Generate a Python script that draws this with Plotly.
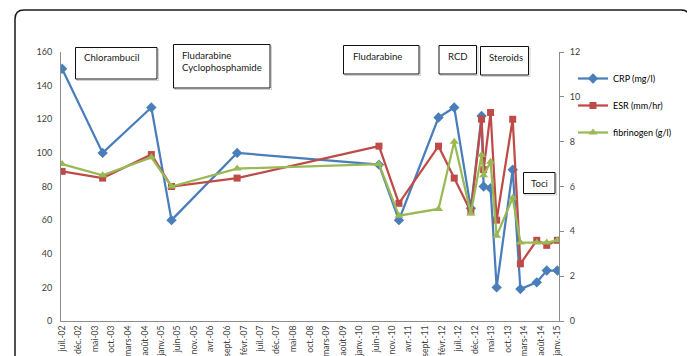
import plotly.graph_objects as go
import pandas as pd

# ---- data ----
dates = ["2002-07-01", "2003-07-10", "2004-10-01", "2005-04-05", "2006-12-01",
         "2010-07-01", "2011-01-01", "2012-01-01", "2012-05-25", "2012-10-25",
         "2013-02-01", "2013-02-20", "2013-04-25", "2013-06-20", "2013-11-15",
         "2014-01-25", "2014-06-25", "2014-09-25", "2015-01-01"]
crp = [150, 100, 127, 60, 100, 93, 60, 121, 127, 67, 122, 80, 79, 20, 90, 19, 23, 30, 30]
esr = [89, 85, 99, 80, 85, 104, 70, 104, 85, 65, 120, 90, 124, 60, 120, 34, 48, 45, 48]
fib = [7.0, 6.5, 7.3, 6.0, 6.8, 7.0, 4.7, 5.0, 8.0, 4.8, 7.4, 6.5, 7.1, 3.8, 5.5, 3.5, 3.5, 3.5, 3.6]

tick_labels = ["juil.-02", "déc.-02", "mai-03", "oct.-03", "mars-04", "août-04", "janv.-05",
               "juin-05", "nov.-05", "avr.-06", "sept.-06", "févr.-07", "juil.-07", "déc.-07",
               "mai-08", "oct.-08", "mars-09", "août-09", "janv.-10", "juin-10", "nov.-10",
               "avr.-11", "sept.-11", "févr.-12", "juil.-12", "déc.-12", "mai-13", "oct.-13",
               "mars-14", "août-14", "janv.-15"]
tick_dates = pd.date_range("2002-07-01", periods=len(tick_labels), freq="5MS")

therapies = ["Chlorambucil", "Fludarabine<br>Cyclophosphamide", "Fludarabine", "RCD", "Steroids", "Toci"]

# ---- layout geometry ----
# the page has an 8px body margin, so the figure is drawn 8px smaller and
# positions below are given in window pixels and shifted by OFF.
OFF = 8
W, H = 695 - OFF, 356 - OFF
ML = 61 - OFF
MT = 52 - OFF
MR = W - (559 - OFF)
MB = H - (321 - OFF)
PW = W - ML - MR
PH = H - MT - MB


def px(x):
    return (x - OFF - ML) / PW


def py(y):
    return (H - MB - (y - OFF)) / PH


FONT = "Lato, 'Open Sans', sans-serif"
fig = go.Figure()

fig.add_trace(go.Scatter(
    x=dates, y=crp, name="CRP (mg/l)", mode="lines+markers",
    line=dict(color="#4A7EBB", width=2.25),
    marker=dict(symbol="diamond", size=8, color="#4A7EBB"),
    legendgroup="a"))
fig.add_trace(go.Scatter(
    x=dates, y=esr, name="ESR (mm/hr)", mode="lines+markers",
    line=dict(color="#BE4B48", width=2.25),
    marker=dict(symbol="square", size=7, color="#BE4B48"),
    legendgroup="b"))
fig.add_trace(go.Scatter(
    x=dates, y=fib, name="fibrinogen (g/l)", mode="lines+markers", yaxis="y2",
    line=dict(color="#98B954", width=2.25),
    marker=dict(symbol="triangle-up", size=8, color="#98B954"),
    legendgroup="c"))

shapes = []
# outer rounded border
x0, y0, x1, y1, r = 15, 10, 690, 370, 9
path = (f"M {px(x0)},{py(y0 + r)} Q {px(x0)},{py(y0)} {px(x0 + r)},{py(y0)} "
        f"L {px(x1 - r)},{py(y0)} Q {px(x1)},{py(y0)} {px(x1)},{py(y0 + r)} "
        f"L {px(x1)},{py(y1)} L {px(x0)},{py(y1)} Z")
shapes.append(dict(type="path", xref="paper", yref="paper", path=path,
                   line=dict(color="#1a1a1a", width=1.5), layer="below"))

boxes = [  # (x0, y0, x1, y1) window pixels, text, text-x, text-y, anchor
    (75.5, 47.5, 157, 79, therapies[0], 82, 58, "left"),
    (173.5, 44.5, 270, 88, therapies[1], 180, 47.5, "top"),
    (343.5, 45.5, 419, 74, therapies[2], 351, 57, "left"),
    (439, 45.5, 476.5, 74, therapies[3], 446, 57, "left"),
    (480.5, 46.5, 528.5, 75, therapies[4], 487, 58, "left"),
    (523.5, 172.5, 555, 193.5, therapies[5], 539.2, 183, "center"),
]
annotations = []
for bx0, by0, bx1, by1, txt, tx, ty, anc in boxes:
    shapes.append(dict(type="rect", xref="paper", yref="paper",
                       x0=px(bx0 + 1.5), x1=px(bx1 + 1.5), y0=py(by0 + 1.5), y1=py(by1 + 1.5),
                       line=dict(color="rgba(0,0,0,0.18)", width=1), fillcolor="rgba(0,0,0,0)"))
    shapes.append(dict(type="rect", xref="paper", yref="paper",
                       x0=px(bx0), x1=px(bx1), y0=py(by0), y1=py(by1),
                       line=dict(color="#111111", width=1), fillcolor="white"))
    f = dict(family=FONT, size=9.6, color="#1a1a1a")
    if anc == "top":
        annotations.append(dict(xref="paper", yref="paper", x=px(tx), y=py(ty), text=txt,
                                showarrow=False, xanchor="left", yanchor="top", align="left",
                                font=f))
    elif anc == "center":
        annotations.append(dict(xref="paper", yref="paper", x=px(tx), y=py(ty), text=txt,
                                showarrow=False, xanchor="center", yanchor="middle", font=f))
    else:
        annotations.append(dict(xref="paper", yref="paper", x=px(tx), y=py(ty), text=txt,
                                showarrow=False, xanchor="left", yanchor="middle", font=f))

fig.update_layout(
    width=W, height=H,
    margin=dict(l=ML, r=MR, t=MT, b=MB, autoexpand=False),
    paper_bgcolor="white", plot_bgcolor="white",
    font=dict(family=FONT, size=9, color="#404040"),
    xaxis=dict(type="date", range=["2002-06-21", "2015-01-16"],
               tickvals=list(tick_dates), ticktext=tick_labels, tickangle=-90,
               showgrid=False, zeroline=False, showline=True, linecolor="#8C8C8C", linewidth=1,
               ticks="", automargin=False, tickfont=dict(size=8.6, color="#404040")),
    yaxis=dict(range=[0, 160], dtick=20, showgrid=False, zeroline=False,
               showline=True, linecolor="#8C8C8C", linewidth=1, ticks="",
               ticklabelstandoff=6, automargin=False,
               tickfont=dict(size=9, color="#404040")),
    yaxis2=dict(range=[0, 12], dtick=2, overlaying="y", side="right", showgrid=False,
                zeroline=False, showline=True, linecolor="#8C8C8C", linewidth=1,
                ticks="outside", ticklen=4, tickcolor="#8C8C8C", automargin=False,
                ticklabelstandoff=4, tickfont=dict(size=9, color="#404040")),
    legend=dict(x=px(573), y=py(64), xanchor="left", yanchor="top",
                bgcolor="rgba(0,0,0,0)", itemwidth=30, tracegroupgap=8,
                font=dict(family=FONT, size=9, color="#000")),
    shapes=shapes, annotations=annotations,
    showlegend=True,
)

fig.write_html("out.html")
